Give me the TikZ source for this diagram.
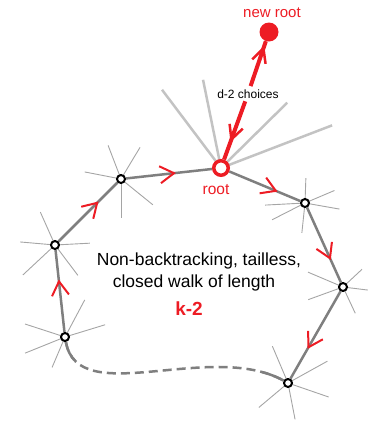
\documentclass[tikz,border=0pt]{standalone}
\usepackage{fontspec}
\setmainfont{Liberation Sans}
\usetikzlibrary{arrows.meta,decorations.markings,backgrounds}
\definecolor{paintred}{RGB}{237,28,36}
\definecolor{walkgray}{RGB}{127,127,127}
\definecolor{spokegray}{RGB}{165,165,165}
\definecolor{choicegray}{RGB}{195,195,195}
\tikzset{
  vertex/.style={circle,draw=black,fill=white,line width=2pt,inner sep=0pt,minimum size=8pt},
  rootvertex/.style={circle,draw=paintred,fill=white,line width=3.5pt,inner sep=0pt,minimum size=14.5pt},
  newvertex/.style={circle,fill=paintred,inner sep=0pt,minimum size=19pt},
  walk/.style={walkgray,line width=2.5pt},
  spoke/.style={spokegray,line width=0.9pt},
  choice/.style={choicegray,line width=2.5pt},
  redwalk/.style={paintred,line width=4pt},
  chevron/.style={postaction={decorate,decoration={markings,
    mark=at position #1 with {\arrow{Straight Barb[color=paintred,length=14pt,width=17pt,line width=2pt]}}}}},
  redchevron/.style={postaction={decorate,decoration={markings,
    mark=at position #1 with {\arrow{Straight Barb[color=paintred,length=14pt,width=14pt,line width=2.5pt]}}}}}
}
\begin{document}
\begin{tikzpicture}[x=1pt,y=-1pt]
    \useasboundingbox (0,0) rectangle (369,421);

    % vertices of the walk
    \node[rootvertex] (root) at (221,168) {};
    \node[newvertex] (newroot) at (269,32) {};
    \node[vertex] (n1) at (121,179) {};
    \node[vertex] (n2) at (55,245) {};
    \node[vertex] (n3) at (65,337) {};
    \node[vertex] (n4) at (305,203) {};
    \node[vertex] (n5) at (343,287) {};
    \node[vertex] (n6) at (288,383) {};

    % labels
    \node[anchor=base,text=paintred,font=\fontsize{15}{18}\selectfont] (newlabel) at (272,17) {new root};
    \node[anchor=base,text=paintred,font=\fontsize{15.5}{18}\selectfont] (rootlabel) at (216,194) {root};
    \node[anchor=base,font=\fontsize{12}{14}\selectfont,inner sep=3pt] (choices) at (248,98) {d-2 choices};
    \node[anchor=base,font=\fontsize{17.5}{21}\selectfont] (line1) at (199,265) {Non-backtracking, tailless,};
    \node[anchor=base,font=\fontsize{17.5}{21}\selectfont] (line2) at (194,287) {closed walk of length};
    \node[anchor=base,text=paintred,font=\fontsize{19}{22}\selectfont\bfseries] (length) at (189,315) {k-2};

    \begin{scope}[on background layer]
      % other edges at each vertex
      \foreach \a/\l in {127/98, 101.5/90, 44.6/93, 21/119}
        \draw[choice] (root.center) -- ++(\a:\l pt);
      \foreach \a/\l in {111/36, 59/37, 169/37, -39/41, -90/39}
        \draw[spoke] (n1.center) -- ++(\a:\l pt);
      \foreach \a/\l in {114/36, 175/35, 3/35, 223/44, -53/38}
        \draw[spoke] (n2.center) -- ++(\a:\l pt);
      \foreach \a/\l in {62/42, 162/42, 17/42, 202/43, 247/33}
        \draw[spoke] (n3.center) -- ++(\a:\l pt);
      \foreach \a/\l in {88/25, 23/32, 183/40, -10/35, 207/37, 264/30}
        \draw[spoke] (n4.center) -- ++(\a:\l pt);
      \foreach \a/\l in {157/38, 43/26, -7/25, 200/37, -65/29}
        \draw[spoke] (n5.center) -- ++(\a:\l pt);
      \foreach \a/\l in {113/40, 29/45, -19/43, 220/38, -79/37}
        \draw[spoke] (n6.center) -- ++(\a:\l pt);

      % the walk
      \draw[walk,chevron=0.58] (n1) -- (root);
      \draw[walk,chevron=0.68] (n2) -- (n1);
      \draw[walk,chevron=0.64] (n3) -- (n2);
      \draw[walk,chevron=0.68] (root) -- (n4);
      \draw[walk,chevron=0.70] (n4) -- (n5);
      \draw[walk,chevron=0.66] (n5) -- (n6);
      \draw[walk,dash pattern=on 9pt off 5pt] (n3) .. controls (78,410) and (210,340) .. (n6);
      \begin{scope}
        \clip (n3.center) circle (25pt);
        \draw[walk] (n3) .. controls (78,410) and (210,340) .. (n6);
      \end{scope}
      \begin{scope}
        \clip (n6.center) circle (28pt);
        \draw[walk] (n3) .. controls (78,410) and (210,340) .. (n6);
      \end{scope}

      % step to the new root
      \draw[redwalk,redchevron=0.70] (choices) -- (root);
      \draw[redwalk,redchevron=0.90] (choices) -- (newroot);
    \end{scope}
  \end{tikzpicture}
\end{document}
